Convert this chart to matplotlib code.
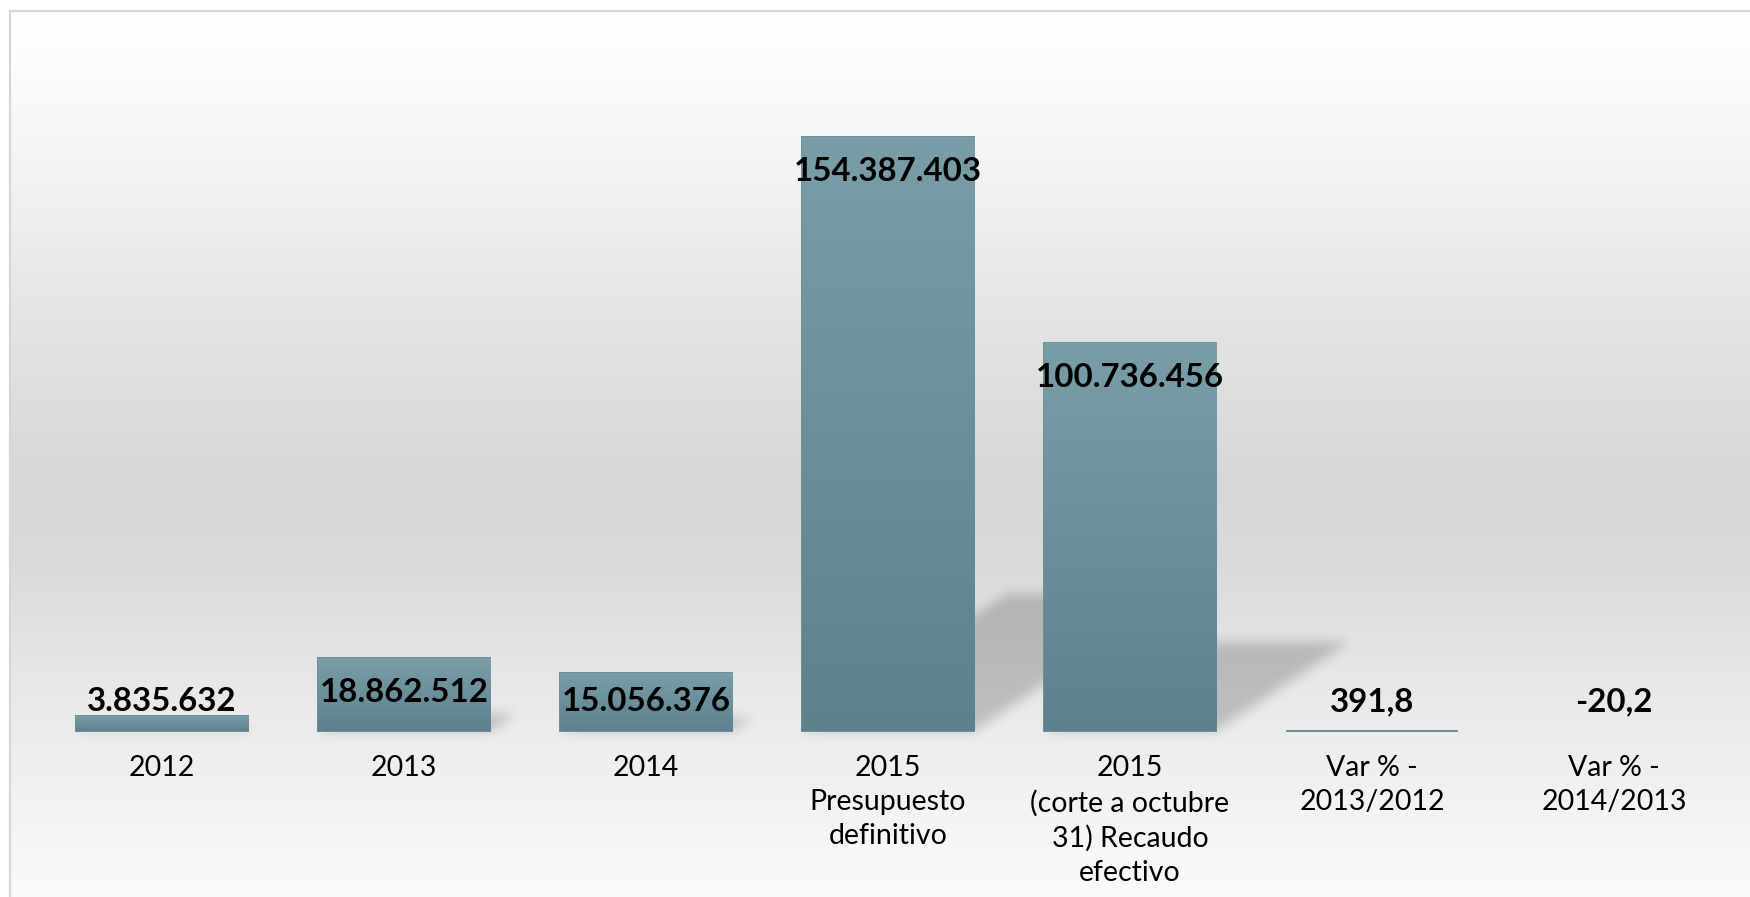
import numpy as np
import matplotlib
matplotlib.use("Agg")
import matplotlib.pyplot as plt
from matplotlib.patches import Rectangle
from matplotlib.path import Path
from matplotlib.colors import LinearSegmentedColormap

# ---------------- data ----------------
categories = ["2012", "2013", "2014",
              "2015\nPresupuesto\ndefinitivo",
              "2015\n(corte a octubre\n31) Recaudo\nefectivo",
              "Var % -\n2013/2012", "Var % -\n2014/2013"]
values = [3835632, 18862512, 15056376, 154387403, 100736456, 391.8, -20.2]
value_labels = ["3.835.632", "18.862.512", "15.056.376", "154.387.403",
                "100.736.456", "391,8", "-20,2"]

# ---------------- layout (pixels) ----------------
W, H, DPI = 1750, 897, 100
BASE_PX = 731          # baseline, px from top
TOP_PX = 137           # top of tallest bar, px from top
C0_PX, STEP_PX = 162.0, 242.0
BAR_W = 0.712

fig = plt.figure(figsize=(W / DPI, H / DPI), dpi=DPI)
fig.patch.set_facecolor("white")

# background axes in pixel coordinates (origin bottom-left)
bg = fig.add_axes([0, 0, 1, 1])
bg.set_axis_off()
bg.set_xlim(0, W)
bg.set_ylim(0, H)

FRAME_L, FRAME_T = 10, 11
ys = np.arange(H)
stops_y = [11, 70, 172, 300, 480, 560, 686, 830, 897]
stops_v = [255, 252, 243, 230, 215, 218, 232, 245, 250]
col = np.interp(ys, stops_y, stops_v) / 255.0
grad = np.repeat(col[:, None], 2, axis=1)
grad_rgb = np.dstack([grad, grad, grad])
bg.imshow(grad_rgb, extent=(FRAME_L, W + 20, 0, H), origin="upper",
          aspect="auto", interpolation="bilinear", zorder=0)
bg.add_patch(Rectangle((FRAME_L, -20), W + 40, H - FRAME_T + 20, fill=False,
                       edgecolor="#d6d6d6", lw=1.6, zorder=5))

# main axes
ax = fig.add_axes([0, 0, 1, 1])
ax.set_facecolor("none")
ax.set_axis_off()
vmax = max(values)
scale = (BASE_PX - TOP_PX) / vmax      # px per unit
ax.set_xlim(-C0_PX / STEP_PX, (W - C0_PX) / STEP_PX)
ax.set_ylim(-(H - BASE_PX) / scale, BASE_PX / scale)

x = np.arange(len(categories))
bar_colors_top = "#7a9ea8"
bar_colors_bot = "#5d828d"
cmap = LinearSegmentedColormap.from_list("bar", [bar_colors_bot, bar_colors_top])

bars = ax.bar(x, values, width=BAR_W, color=bar_colors_bot,
              edgecolor=["#6a8f9a" if v > 0 else "none" for v in values],
              linewidth=1.4, zorder=3)

gvec = np.linspace(0, 1, 256)[:, None]
for b, v in zip(bars, values):
    if v * scale > 3:
        im = ax.imshow(gvec, cmap=cmap, extent=(b.get_x(), b.get_x() + b.get_width(), 0, v),
                       origin="lower", aspect="auto", interpolation="bilinear", zorder=3.5)
        im.set_clip_path(b)

# ---------------- soft perspective shadows ----------------
yy, xx = np.mgrid[0:H, 0:W]
pts = np.column_stack([xx.ravel() + 0.5, yy.ravel() + 0.5])
mask = np.zeros(H * W, dtype=float)
for b, v in zip(bars, values):
    if v <= 0:
        continue
    (x0, y0) = ax.transData.transform((b.get_x(), 0))
    (x1, y1) = ax.transData.transform((b.get_x() + b.get_width(), v))
    hpx = y1 - y0
    sh = 0.23 * hpx
    shift = 1.49 * sh
    poly = Path([(x0, y0), (x1, y0), (x1 + shift, y0 + sh), (x0 + shift, y0 + sh), (x0, y0)])
    mask = np.maximum(mask, poly.contains_points(pts).astype(float))
mask = mask.reshape(H, W)

def box_blur(a, r, axis):
    c = np.cumsum(np.pad(a, [(r + 1, r) if i == axis else (0, 0) for i in range(2)],
                         mode="edge"), axis=axis)
    if axis == 0:
        return (c[2 * r + 1:, :] - c[:-2 * r - 1, :]) / (2 * r + 1)
    return (c[:, 2 * r + 1:] - c[:, :-2 * r - 1]) / (2 * r + 1)

for _ in range(3):
    mask = box_blur(mask, 5, 0)
    mask = box_blur(mask, 5, 1)
shadow = np.zeros((H, W, 4))
shadow[..., 3] = mask * 0.19
bg.imshow(shadow, extent=(0, W, 0, H), origin="lower", aspect="auto",
          interpolation="nearest", zorder=2)

# ---------------- labels ----------------
for xi, v, lab in zip(x, values, value_labels):
    ypx = max(v * scale - 44, 20)
    ax.text(xi, ypx / scale, lab, ha="center", va="baseline",
            fontsize=23.8, fontweight="bold", family="Lato", color="black", zorder=6)

for xi, lab in zip(x, categories):
    ax.annotate(lab, xy=(xi, 0), xytext=(0, -24 * 72 / DPI), textcoords="offset points",
                ha="center", va="top", fontsize=20.5, family="Lato", color="black",
                linespacing=1.39, multialignment="center", zorder=6)

fig.savefig("out.png", dpi=DPI)
